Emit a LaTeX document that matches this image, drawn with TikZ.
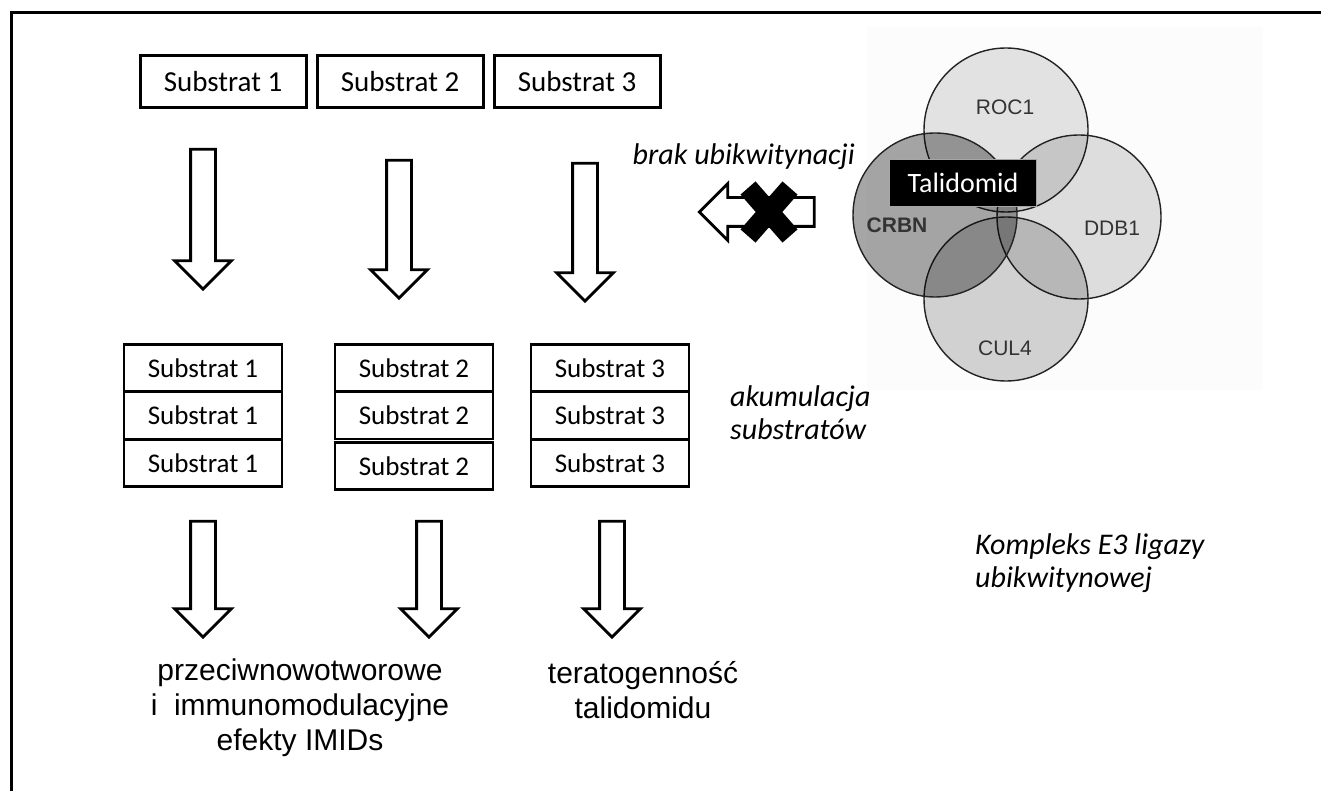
\documentclass[tikz,border=0pt]{standalone}
\usepackage{fontspec}
\setmainfont{Carlito}
\newfontfamily\arialfont{Liberation Sans}
\usetikzlibrary{positioning,shapes.arrows}
\definecolor{vennline}{RGB}{35,35,35}
\definecolor{faintgray}{RGB}{252,252,252}

\begin{document}
\begin{tikzpicture}[x=1pt, y=-1pt,
    every node/.style={inner sep=0pt},
    topbox/.style={draw, line width=3pt, minimum width=166pt, minimum height=52pt, font=\fontsize{29}{34}\selectfont},
    stackbox/.style={draw, line width=2.6pt, minimum width=158pt, minimum height=47pt, font=\fontsize{27}{32}\selectfont},
    downarrow/.style={single arrow, draw, line width=2.8pt, fill=white, rotate=-90, inner xsep=0pt, inner ysep=11pt, single arrow head extend=16pt, minimum height=#1},
    note/.style={align=left, font=\fontsize{30}{33}\selectfont\itshape},
    effect/.style={align=center, font=\arialfont\fontsize{30}{35}\selectfont},
    subunit/.style={circle, draw=vennline, line width=1.4pt, minimum size=164pt, fill=black, fill opacity=#1, draw opacity=1},
    unitlabel/.style={font=\arialfont\fontsize{21}{24}\selectfont, text=black!80}
  ]
    \useasboundingbox (0,0) rectangle (1321,791);
    % frame
    \draw[line width=3pt] (11,791) -- (11,13) -- (1321,13);
    % E3 ligase complex
    \fill[faintgray] (867,27) rectangle (1263,390);
    \node[subunit=.10] (roc) at (1006,130) {};
    \node[subunit=.12] (ddb) at (1079,217) {};
    \node[subunit=.17] (cul) at (1006,299) {};
    \node[subunit=.35] (crbn) at (935,215) {};
    \node[unitlabel] (roclabel) at (1005,107) {ROC1};
    \node[unitlabel] (ddblabel) at (1112,228) {DDB1};
    \node[unitlabel] (cullabel) at (1005,348) {CUL4};
    \node[unitlabel, font=\arialfont\bfseries\fontsize{21}{24}\selectfont] (crbnlabel) at (897,225) {CRBN};
    \node[fill=black, draw=gray!70, line width=1.2pt, text=white, minimum width=147pt, minimum height=47pt, font=\fontsize{28}{32}\selectfont] (thal) at (963,183) {Talidomid};
    % blocked ubiquitination
    \node[single arrow, draw, line width=2.8pt, fill=white, rotate=180, inner xsep=0pt, inner ysep=13pt, single arrow head extend=14pt, minimum height=115pt] (block) at (764,212) {};
    \draw[line width=20pt] (748,188) -- (790,236);
    \draw[line width=20pt] (748,236) -- (790,188);
    \node[note, anchor=east] (nubq) at (855,157) {brak ubikwitynacji};
    % substrates
    \node[topbox] (sub1) at (223,82) {Substrat 1};
    \node[topbox, right=8pt of sub1] (sub2) {Substrat 2};
    \node[topbox, right=8pt of sub2] (sub3) {Substrat 3};
    \node[downarrow=140pt] (down1) at (203,213) {};
    \node[downarrow=138pt] (down2) at (399,223) {};
    \node[downarrow=138pt] (down3) at (585,226) {};
    % accumulated substrates
    \node[stackbox] (acc11) at (203,368) {Substrat 1};
    \node[stackbox, below=-2pt of acc11] (acc12) {Substrat 1};
    \node[stackbox, below=-2pt of acc12] (acc13) {Substrat 1};
    \node[stackbox] (acc21) at (414,368) {Substrat 2};
    \node[stackbox, below=-2pt of acc21] (acc22) {Substrat 2};
    \node[stackbox, below=1pt of acc22] (acc23) {Substrat 2};
    \node[stackbox] (acc31) at (610,368) {Substrat 3};
    \node[stackbox, below=-2pt of acc31] (acc32) {Substrat 3};
    \node[stackbox, below=-2pt of acc32] (acc33) {Substrat 3};
    \node[note, anchor=west] (nacc) at (730,413) {akumulacja\\substratów};
    \node[note, anchor=west] (ncomplex) at (975,563) {Kompleks E3 ligazy\\ubikwitynowej};
    % effects
    \node[downarrow=116pt] (out1) at (203,573) {};
    \node[downarrow=116pt] (out2) at (429,573) {};
    \node[downarrow=116pt] (out3) at (612,573) {};
    \node[effect] (immuno) at (300,708) {przeciwnowotworowe\\i~ immunomodulacyjne\\efekty IMIDs};
    \node[effect] (terato) at (643,690) {teratogenność\\talidomidu};
\end{tikzpicture}
\end{document}
